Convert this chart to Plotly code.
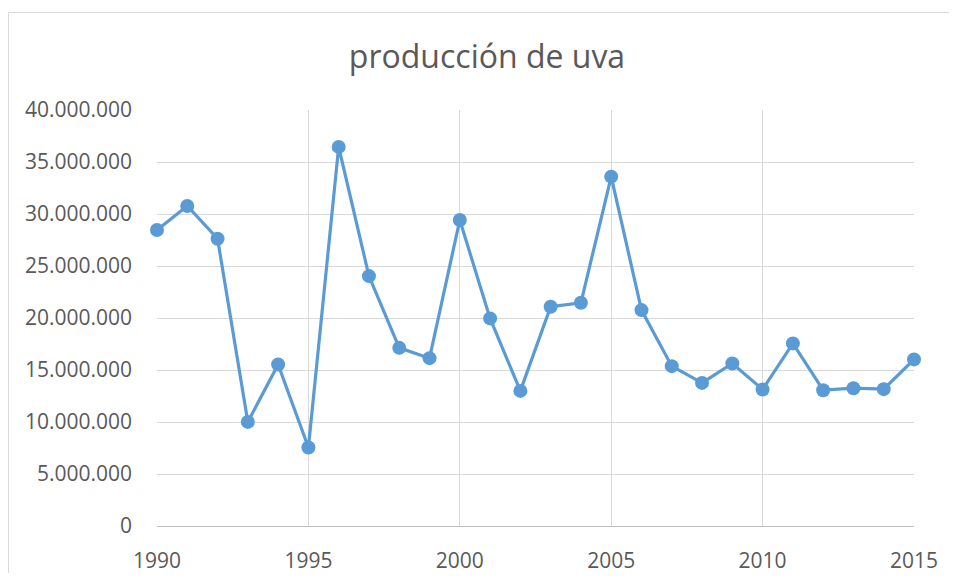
import plotly.graph_objects as go

years = list(range(1990, 2016))
produccion = [28460000, 30770000, 27620000, 10010000, 15530000, 7550000,
              36450000, 24030000, 17130000, 16140000, 29420000, 19960000,
              12990000, 21080000, 21460000, 33590000, 20760000, 15370000,
              13760000, 15630000, 13130000, 17560000, 13060000, 13250000,
              13160000, 16020000]
x_ticks = [1990, 1995, 2000, 2005, 2010, 2015]
y_ticks = [0, 5000000, 10000000, 15000000, 20000000, 25000000, 30000000, 35000000, 40000000]

fig = go.Figure()
fig.add_trace(go.Scatter(
    x=years, y=produccion, mode="lines+markers",
    line=dict(color="#5b9bd5", width=3.2),
    marker=dict(color="#5b9bd5", size=14),
    showlegend=False, cliponaxis=False,
))

# page has an 8px body margin; figure origin sits at (8, 8)
W, H = 941, 565
L, T = 149, 102
R = W - 906
B = H - 518
pw, ph = W - L - R, H - T - B

bx0 = (0.5 - L) / pw
bx1 = (W + 30 - L) / pw
by_top = (H - B - 4.5) / ph
by_bot = -0.3

fig.update_layout(
    width=W, height=H,
    margin=dict(l=L, r=R, t=T, b=B),
    paper_bgcolor="white", plot_bgcolor="white",
    separators=",.",
    font=dict(family="Open Sans", color="#595959", size=21),
    title=dict(text="producción de uva", x=479 / W, xref="container", xanchor="center",
               y=(H - 49) / H, yref="container", yanchor="middle",
               font=dict(family="Open Sans", size=32, color="#595959")),
    shapes=[
        dict(type="line", xref="paper", yref="paper",
             x0=bx0, x1=bx0, y0=by_bot, y1=by_top,
             line=dict(color="#d9d9d9", width=1), layer="below"),
        dict(type="line", xref="paper", yref="paper",
             x0=bx0, x1=bx1, y0=by_top, y1=by_top,
             line=dict(color="#d9d9d9", width=1), layer="below"),
    ],
)
fig.update_xaxes(
    range=[1990, 2015], tickvals=x_ticks, ticktext=[str(v) for v in x_ticks],
    showgrid=True, gridcolor="#d9d9d9", gridwidth=1.3,
    showline=True, linecolor="#bfbfbf", linewidth=1.3, mirror=False,
    zeroline=False, ticks="", ticklabelstandoff=16, automargin=False,
)
fig.update_yaxes(
    range=[0, 40000000], tickvals=y_ticks, tickformat=",d",
    showgrid=True, gridcolor="#d9d9d9", gridwidth=1.3,
    showline=False, zeroline=False, ticks="", ticklabelstandoff=24, automargin=False,
)
fig.write_html("out.html")
